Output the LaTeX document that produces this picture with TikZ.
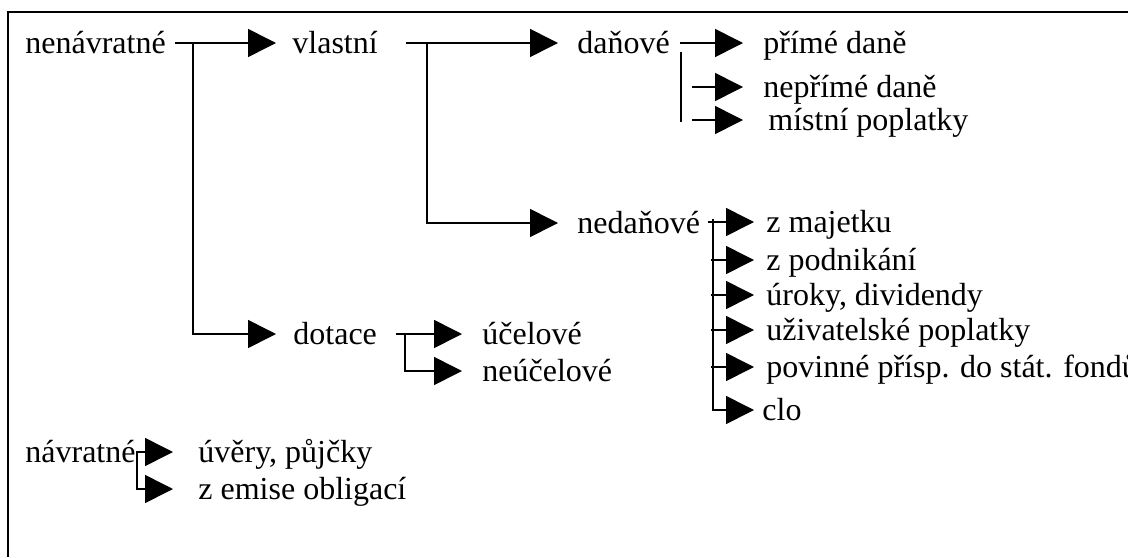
\documentclass[tikz,border=0pt]{standalone}
\usepackage{fontspec}
\setmainfont{Liberation Serif}
\usetikzlibrary{calc,positioning,arrows.meta}
\tikzset{
  lbl/.style={anchor=west,inner sep=0pt,font=\fontsize{16}{19}\selectfont,
              text height=11pt,text depth=1pt},
  arr/.style={-{Triangle[length=14pt,width=14pt]},line width=0.8pt,black},
  arrs/.style={{Triangle[length=14pt,width=14pt]}-{Triangle[length=14pt,width=14pt]},
               line width=0.8pt,black},
  ln/.style={line width=0.8pt,black}
}

\begin{document}
\begin{tikzpicture}[x=0.5pt,y=-0.5pt,
  frame/.style={line width=1.1pt,black}]
  \useasboundingbox (0,0) rectangle (1128,557);
  \draw[frame] (8,557) -- (8,12) -- (1128,12);
  % first level
  \node[lbl] (nenavratne) at (25,43) {nenávratné};
  \node[lbl] (navratne) at (25,452) {návratné};
  % second level
  \node[lbl] (vlastni) at (292,43) {vlastní};
  \node[lbl] (dotace) at (293,334) {dotace};
  \node[lbl] (uvery) at (198,452) {úvěry, půjčky};
  \node[lbl] (emise) at (198,489) {z emise obligací};
  % third level
  \node[lbl] (danove) at (577,43) {daňové};
  \node[lbl] (nedanove) at (577,223) {nedaňové};
  \node[lbl] (ucelove) at (482,334) {účelové};
  \node[lbl] (neucelove) at (482,371) {neúčelové};
  % taxes
  \node[lbl] (prime) at (763,43) {přímé daně};
  \node[lbl] (neprime) at (763,87) {nepřímé daně};
  \node[lbl] (mistni) at (768,120) {místní poplatky};
  % non-tax
  \node[lbl] (majetek) at (766,222) {z majetku};
  \node[lbl] (podnikani) at (766,260) {z podnikání};
  \node[lbl] (uroky) at (766,295) {úroky, dividendy};
  \node[lbl] (uzivatelske) at (766,330) {uživatelské poplatky};
  \node[lbl] (povinne) at (766,367) {povinné přísp. do stát. fondů};
  \node[lbl] (clo) at (762,410) {clo};

  % branch points
  \coordinate (j1) at (193,43);
  \coordinate (j2) at (427,43);
  \coordinate (j3) at (713,219);
  \coordinate (j4) at (405,334);
  \coordinate (j5) at (137,452);
  \coordinate (d1) at (681,52);
  \coordinate (d2) at (681,122);

  \draw[arr] ($(nenavratne.east)+(9,0)$) -- ($(vlastni.west)+(-16,0)$);
  \draw[arr] (j1) |- ($(dotace.west)+(-17,0)$);
  \draw[arr] ($(vlastni.east)+(28,0)$) -- ($(danove.west)+(-19,0)$);
  \draw[arr] (j2) |- ($(nedanove.west)+(-19,0)$);
  \draw[arr] ($(danove.east)+(10,0)$) -- ($(prime.west)+(-20,0)$);
  \draw[ln] (d1) -- (d2);
  \draw[arr] ($(d1)+(11,35)$) -- ($(neprime.west)+(-20,0)$);
  \draw[arr] ($(d2)+(11,-2)$) -- ($(mistni.west)+(-25,0)$);
  \draw[arr] ($(j3)+(-5,3)$) -- ($(majetek.west)+(-12,0)$);
  \draw[arr] (j3) |- ($(clo.west)+(-8,0)$);
  \foreach \n in {podnikani,uroky,uzivatelske,povinne}
    \draw[arr] ($(j3|-\n.west)+(-2,0)$) -- ($(\n.west)+(-12,0)$);
  \draw[arr] ($(dotace.east)+(19,0)$) -- ($(ucelove.west)+(-20,0)$);
  \draw[arr] (j4) |- ($(neucelove.west)+(-20,0)$);
  \draw[arrs] ($(uvery.west)+(-25,0)$) -- (j5) |- ($(emise.west)+(-25,0)$);
\end{tikzpicture}
\end{document}
